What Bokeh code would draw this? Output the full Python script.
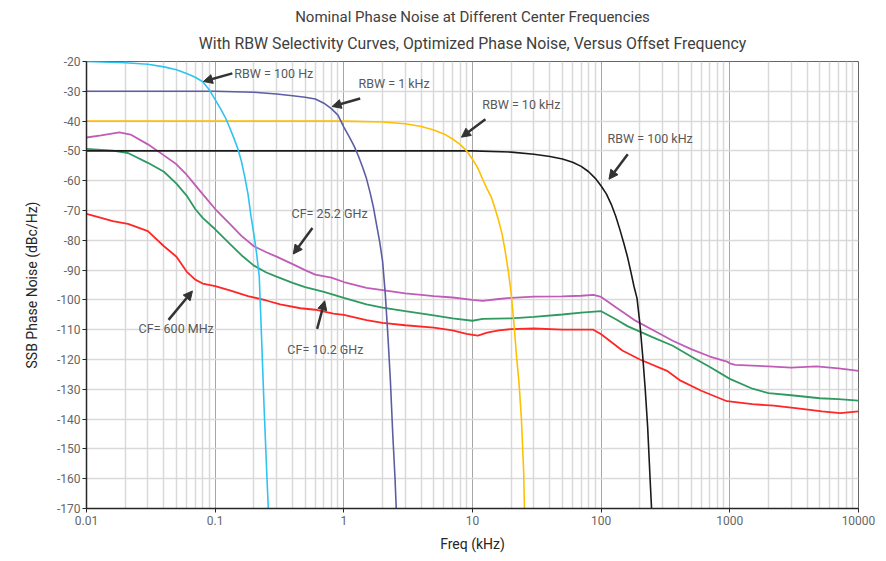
from bokeh.plotting import figure
from bokeh.models import (FixedTicker, CustomJSTickFormatter, Arrow, NormalHead,
                          Label, Title, Range1d, LinearAxis)
from bokeh.embed import file_html
from bokeh.resources import INLINE

# ---------------- data ----------------
title_lines = ["Nominal Phase Noise at Different Center Frequencies",
               "With RBW Selectivity Curves, Optimized Phase Noise, Versus Offset Frequency"]
x_ticks = [0.01, 0.1, 1, 10, 100, 1000, 10000]
x_tick_labels = ["0.01", "0.1", "1", "10", "100", "1000", "10000"]
y_ticks = [-20, -30, -40, -50, -60, -70, -80, -90, -100, -110, -120, -130, -140, -150, -160, -170]
y_tick_labels = ["-20", "-30", "-40", "-50", "-60", "-70", "-80", "-90", "-100", "-110",
                 "-120", "-130", "-140", "-150", "-160", "-170"]

rbw_100hz_f = [0.01, 0.02, 0.03, 0.04, 0.05, 0.06, 0.07, 0.08, 0.09, 0.10, 0.11, 0.12, 0.13,
               0.14, 0.15, 0.16, 0.17, 0.18, 0.19, 0.20, 0.21, 0.22, 0.23, 0.24, 0.25, 0.26]
rbw_100hz_db = [-20.0, -20.4, -20.9, -21.8, -22.8, -24.0, -25.3, -26.8, -29.5, -32.8, -35.8,
                -38.8, -42.3, -45.8, -49.3, -53.5, -58.8, -64.5, -72.0, -78.0, -84.5, -92.0,
                -114.0, -136.0, -155.0, -172.0]

rbw_1khz_f = [0.01, 0.1, 0.2, 0.3, 0.4, 0.5, 0.6, 0.7, 0.8, 0.9, 1.0, 1.1, 1.2, 1.3, 1.4, 1.5,
              1.6, 1.7, 1.8, 1.9, 2.0, 2.1, 2.2, 2.3, 2.4, 2.5, 2.56]
rbw_1khz_db = [-30.0, -30.0, -30.3, -30.9, -31.5, -32.0, -32.6, -34.0, -35.8, -38.0, -42.0,
               -45.2, -48.3, -51.8, -55.5, -59.3, -64.0, -69.0, -75.0, -80.5, -87.0, -98.0,
               -112.0, -127.0, -145.0, -160.0, -171.0]

rbw_10khz_f = [0.01, 1, 2, 3, 4, 5, 6, 7, 8, 9, 10, 11, 12, 13, 14, 15, 16, 17, 18, 19, 20,
               21, 22, 23, 24, 25, 25.4]
rbw_10khz_db = [-40.0, -40.0, -40.3, -40.9, -41.8, -43.0, -44.3, -46.0, -47.8, -50.0, -52.8,
                -55.8, -59.5, -62.8, -65.5, -69.5, -73.5, -78.0, -84.0, -90.5, -98.0, -108.0,
                -119.0, -128.0, -140.0, -158.0, -172.0]

rbw_100khz_f = [0.01, 10, 20, 30, 40, 50, 60, 70, 80, 90, 100, 110, 120, 130, 140, 150, 160,
                170, 180, 190, 200, 210, 220, 230, 240, 247]
rbw_100khz_db = [-50.0, -50.0, -50.4, -51.1, -51.9, -52.7, -53.8, -55.2, -57.0, -59.2, -61.8,
                 -64.5, -68.0, -72.0, -76.5, -81.0, -85.5, -90.5, -95.5, -99.5, -108.0, -118.5,
                 -130.0, -143.0, -160.0, -171.0]

cf_25g_f = [0.01, 0.013, 0.018, 0.022, 0.03, 0.04, 0.05, 0.06, 0.07, 0.08, 0.1, 0.13, 0.16,
            0.2, 0.25, 0.3, 0.4, 0.5, 0.6, 0.8, 1, 1.5, 2, 3, 4, 5, 7, 10, 12, 16, 20, 30, 50,
            70, 87, 100, 130, 180, 250, 360, 500, 700, 950, 1000, 1100, 2000, 3000, 4700, 7000,
            10000]
cf_25g_db = [-45.5, -44.8, -43.8, -44.5, -47.8, -51.5, -54.5, -58.0, -61.5, -64.5, -69.5,
             -74.5, -78.5, -82.0, -84.0, -85.5, -88.0, -90.0, -91.5, -92.5, -94.0, -96.0, -96.7,
             -97.8, -98.3, -98.7, -99.2, -100.0, -100.3, -99.7, -99.3, -98.9, -98.8, -98.6,
             -98.3, -99.0, -102.5, -106.7, -110.0, -113.7, -116.5, -119.0, -120.7, -121.3,
             -121.8, -122.3, -122.7, -122.3, -123.0, -123.8]

cf_10g_f = [0.01, 0.016, 0.021, 0.03, 0.04, 0.05, 0.06, 0.07, 0.08, 0.1, 0.13, 0.16, 0.2, 0.25,
            0.3, 0.4, 0.5, 0.7, 1, 1.5, 2, 3, 5, 7, 10, 12, 20, 30, 50, 70, 100, 130, 160, 250,
            360, 500, 700, 1000, 1500, 2000, 3000, 5000, 7000, 10000]
cf_10g_db = [-49.3, -49.9, -50.7, -54.0, -57.0, -61.0, -65.0, -69.5, -72.5, -76.3, -81.2, -85.0,
             -88.5, -90.8, -92.2, -94.3, -95.7, -97.3, -99.3, -101.5, -102.6, -103.8, -105.2,
             -106.2, -107.0, -106.4, -106.2, -105.7, -104.9, -104.3, -103.8, -106.5, -108.8,
             -112.5, -115.4, -119.0, -122.5, -126.5, -129.8, -131.3, -132.0, -133.0, -133.3,
             -133.8]

cf_600m_f = [0.01, 0.013, 0.016, 0.021, 0.03, 0.04, 0.05, 0.06, 0.07, 0.08, 0.1, 0.13, 0.18,
             0.25, 0.32, 0.46, 0.6, 0.83, 1, 1.5, 2, 3, 5, 7, 9, 11, 13, 16, 20, 30, 50, 87, 100,
             146, 200, 325, 414, 600, 950, 1500, 2200, 3500, 5200, 7200, 10000]
cf_600m_db = [-71.1, -72.5, -73.6, -74.5, -76.9, -82.0, -85.5, -90.5, -93.2, -94.5, -95.4,
              -96.8, -98.7, -100.2, -101.5, -102.8, -103.3, -104.6, -105.0, -106.8, -107.7,
              -108.5, -109.3, -110.2, -111.4, -112.0, -111.0, -110.2, -109.8, -109.6, -110.0,
              -110.0, -111.5, -117.0, -120.0, -123.8, -127.1, -130.5, -134.0, -135.0, -135.5,
              -136.5, -137.4, -138.0, -137.4]

# ---------------- figure ----------------
FONT = "Roboto"
p = figure(width=886, height=561, x_axis_type="log", output_backend="svg",
           toolbar_location=None, x_range=Range1d(0.01, 10000), y_range=Range1d(-170, -20),
           min_border_left=86, min_border_right=28, min_border_top=60, min_border_bottom=53)
p.background_fill_color = "white"
p.border_fill_color = "white"
p.outline_line_color = "#666666"
p.outline_line_width = 1

bottom_ax = p.below[0]
left_ax = p.left[0]

# second title line: label of a bare axis on top of the frame
top_ax = LinearAxis(axis_label=title_lines[1], ticker=FixedTicker(ticks=[]),
                    axis_line_color=None, major_tick_line_color=None,
                    minor_tick_line_color=None, major_tick_out=0, major_tick_in=0,
                    minor_tick_out=0, minor_tick_in=0, major_label_standoff=0,
                    major_label_text_font_size="1px", axis_label_standoff=9,
                    axis_label_text_font=FONT, axis_label_text_font_size="15.8px",
                    axis_label_text_font_style="normal", axis_label_text_color="#404040")
p.add_layout(top_ax, "above")
# first title line
p.add_layout(Title(text=title_lines[0], align="center", text_font=FONT,
                   text_font_size="15px", text_font_style="normal", text_color="#404040",
                   standoff=10), "above")

minor = [d * k for d in x_ticks[:-1] for k in range(2, 10)]
bottom_ax.ticker = FixedTicker(ticks=x_ticks, minor_ticks=minor)
left_ax.ticker = FixedTicker(ticks=y_ticks)
bottom_ax.formatter = CustomJSTickFormatter(args=dict(t=x_ticks, l=x_tick_labels), code="""
let best = 0, bd = Infinity;
for (let i = 0; i < t.length; i++) {
  const d = Math.abs(Math.log10(tick) - Math.log10(t[i]));
  if (d < bd) { bd = d; best = i; }
}
return l[best];""")
left_ax.formatter = CustomJSTickFormatter(args=dict(t=y_ticks, l=y_tick_labels), code="""
let best = 0, bd = Infinity;
for (let i = 0; i < t.length; i++) {
  const d = Math.abs(tick - t[i]);
  if (d < bd) { bd = d; best = i; }
}
return l[best];""")

for ax in (bottom_ax, left_ax):
    ax.axis_line_color = "#262626"
    ax.axis_line_width = 1.5
    ax.major_tick_line_color = "#262626"
    ax.major_tick_out = 4
    ax.major_tick_in = 0
    ax.minor_tick_out = 0
    ax.minor_tick_in = 0
    ax.major_label_text_font = FONT
    ax.major_label_text_font_size = "12px"
    ax.major_label_text_color = "#666666"
    ax.axis_label_text_font = FONT
    ax.axis_label_text_font_size = "14px"
    ax.axis_label_text_font_style = "normal"
    ax.axis_label_text_color = "#262626"

bottom_ax.axis_label = "Freq (kHz)"
left_ax.axis_label = "SSB Phase Noise (dBc/Hz)"
bottom_ax.major_label_standoff = 3
left_ax.major_label_standoff = 2
bottom_ax.axis_label_standoff = 8
left_ax.axis_label_standoff = 14

p.xgrid.grid_line_color = "#a6a6a6"
p.xgrid.grid_line_width = 1
p.xgrid.minor_grid_line_color = "#d9d9d9"
p.xgrid.minor_grid_line_width = 1.5
p.ygrid.grid_line_color = "#d9d9d9"
p.ygrid.grid_line_width = 1.5

# ---------------- curves ----------------
p.line(cf_25g_f, cf_25g_db, line_color="#c05cb8", line_width=1.8)
p.line(cf_10g_f, cf_10g_db, line_color="#2e9a62", line_width=1.8)
p.line(cf_600m_f, cf_600m_db, line_color="#ff2626", line_width=1.8)
p.line(rbw_100khz_f, rbw_100khz_db, line_color="#1a1a1a", line_width=1.6)
p.line(rbw_10khz_f, rbw_10khz_db, line_color="#ffc000", line_width=1.6)
p.line(rbw_1khz_f, rbw_1khz_db, line_color="#5c5ea3", line_width=1.6)
p.line(rbw_100hz_f, rbw_100hz_db, line_color="#2ec4f2", line_width=1.6)

# ---------------- annotations ----------------
labels = [
    ("RBW = 100 Hz", 0.141, -24.0),
    ("RBW = 1 kHz", 1.30, -27.4),
    ("RBW = 10 kHz", 11.9, -34.4),
    ("RBW = 100 kHz", 112, -45.8),
    ("CF= 25.2 GHz", 0.392, -70.9),
    ("CF= 10.2 GHz", 0.364, -116.8),
    ("CF= 600 MHz", 0.0254, -109.7),
]
for txt, lx, ly in labels:
    p.add_layout(Label(x=lx, y=ly, text=txt, text_font=FONT, text_font_size="12.5px",
                       text_color="#595959", text_baseline="middle", text_align="left"))

arrows = [
    (0.136, -24.0, 0.081, -26.7),
    (1.34, -32.4, 0.81, -35.1),
    (12.6, -39.4, 8.2, -45.4),
    (161, -51.1, 115, -59.5),
    (0.57, -75.9, 0.405, -84.6),
    (0.62, -109.7, 0.71, -100.3),
    (0.0434, -106.7, 0.0666, -97.0),
]
for xs, ys, xe, ye in arrows:
    p.add_layout(Arrow(end=NormalHead(size=9, fill_color="#333333", line_color="#333333"),
                       x_start=xs, y_start=ys, x_end=xe, y_end=ye,
                       line_color="#333333", line_width=2.5))

open("out.html", "w").write(file_html(p, INLINE))
